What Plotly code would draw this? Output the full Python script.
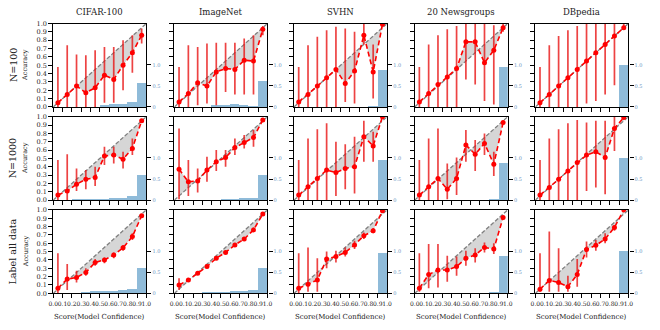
import plotly.graph_objects as go

bin_centers = [0.05, 0.15, 0.25, 0.35, 0.45, 0.55, 0.65, 0.75, 0.85, 0.95]
datasets = ["CIFAR-100", "ImageNet", "SVHN", "20 Newsgroups", "DBpedia"]
row_labels = ["N=100", "N=1000", "Label all data"]
x_title = "Score(Model Confidence)"
y_title = "Accuracy"

# ---------- Row 1: N=100 ----------
acc_100_cifar = [0.05, 0.15, 0.25, 0.17, 0.23, 0.38, 0.33, 0.50, 0.65, 0.86]
lo_100_cifar = [0.00, 0.00, 0.00, 0.00, 0.00, 0.05, 0.05, 0.20, 0.41, 0.76]
hi_100_cifar = [0.48, 0.74, 0.63, 0.62, 0.68, 0.72, 0.72, 0.80, 0.86, 0.94]
hist_100_cifar = [0, 0, 0, 0, 0, 0.055, 0.08, 0.07, 0.13, 0.58]

acc_100_imagenet = [0.06, 0.16, 0.29, 0.25, 0.42, 0.46, 0.45, 0.56, 0.55, 0.93]
lo_100_imagenet = [0.00, 0.00, 0.02, 0.04, 0.02, 0.18, 0.15, 0.15, 0.15, 0.86]
hi_100_imagenet = [0.48, 0.74, 0.72, 0.76, 0.77, 0.77, 0.77, 0.82, 0.86, 0.97]
hist_100_imagenet = [0, 0, 0, 0, 0.05, 0.06, 0.08, 0.06, 0.02, 0.62]

acc_100_svhn = [0.06, 0.15, 0.25, 0.35, 0.45, 0.28, 0.43, 0.86, 0.42, 0.99]
lo_100_svhn = [0.00, 0.00, 0.00, 0.00, 0.00, 0.06, 0.04, 0.75, 0.10, 0.97]
hi_100_svhn = [0.48, 0.74, 0.84, 0.92, 0.96, 0.94, 0.90, 1.00, 0.75, 1.00]
hist_100_svhn = [0, 0, 0, 0, 0, 0, 0, 0, 0.02, 0.90]

acc_100_news = [0.06, 0.16, 0.27, 0.36, 0.46, 0.78, 0.78, 0.53, 0.68, 0.95]
lo_100_news = [0.00, 0.00, 0.00, 0.00, 0.00, 0.33, 0.27, 0.07, 0.03, 0.90]
hi_100_news = [0.48, 0.75, 0.86, 0.93, 0.97, 1.00, 1.00, 1.00, 0.98, 1.00]
hist_100_news = [0, 0, 0, 0, 0, 0, 0, 0, 0, 0.96]

acc_100_dbpedia = [0.05, 0.15, 0.25, 0.35, 0.45, 0.55, 0.65, 0.75, 0.85, 0.95]
lo_100_dbpedia = [0.00, 0.00, 0.00, 0.00, 0.00, 0.04, 0.07, 0.15, 0.26, 0.93]
hi_100_dbpedia = [0.48, 0.74, 0.85, 0.92, 0.97, 1.00, 1.00, 1.00, 1.00, 1.00]
hist_100_dbpedia = [0, 0, 0, 0, 0, 0, 0, 0, 0, 1.00]

# ---------- Row 2: N=1000 ----------
acc_1000_cifar = [0.06, 0.11, 0.19, 0.25, 0.27, 0.53, 0.54, 0.49, 0.62, 0.95]
lo_1000_cifar = [0.00, 0.00, 0.11, 0.13, 0.17, 0.42, 0.44, 0.38, 0.54, 0.93]
hi_1000_cifar = [0.48, 0.55, 0.38, 0.36, 0.40, 0.64, 0.64, 0.58, 0.74, 0.97]
hist_1000_cifar = [0, 0, 0.02, 0.03, 0.04, 0.04, 0.05, 0.06, 0.10, 0.60]

acc_1000_imagenet = [0.37, 0.22, 0.23, 0.36, 0.46, 0.51, 0.63, 0.69, 0.75, 0.96]
lo_1000_imagenet = [0.01, 0.05, 0.09, 0.22, 0.35, 0.40, 0.54, 0.62, 0.64, 0.95]
hi_1000_imagenet = [0.86, 0.48, 0.38, 0.52, 0.60, 0.60, 0.74, 0.78, 0.84, 0.97]
hist_1000_imagenet = [0, 0, 0, 0, 0, 0.04, 0.04, 0.05, 0.06, 0.60]

acc_1000_svhn = [0.06, 0.16, 0.26, 0.36, 0.33, 0.38, 0.40, 0.76, 0.65, 1.00]
lo_1000_svhn = [0.00, 0.00, 0.00, 0.00, 0.05, 0.13, 0.08, 0.46, 0.46, 1.00]
hi_1000_svhn = [0.48, 0.74, 0.85, 0.92, 0.70, 0.67, 0.76, 0.95, 0.82, 1.00]
hist_1000_svhn = [0, 0, 0, 0, 0, 0, 0, 0, 0, 0.96]

acc_1000_news = [0.06, 0.16, 0.26, 0.13, 0.26, 0.66, 0.55, 0.68, 0.43, 0.93]
lo_1000_news = [0.00, 0.00, 0.00, 0.01, 0.06, 0.46, 0.35, 0.54, 0.29, 0.91]
hi_1000_news = [0.48, 0.74, 0.86, 0.44, 0.51, 0.84, 0.72, 0.80, 0.58, 0.95]
hist_1000_news = [0, 0, 0, 0, 0, 0, 0, 0, 0.02, 0.90]

acc_1000_dbpedia = [0.06, 0.15, 0.25, 0.35, 0.45, 0.54, 0.58, 0.51, 0.86, 0.99]
lo_1000_dbpedia = [0.00, 0.00, 0.00, 0.00, 0.00, 0.11, 0.15, 0.07, 0.59, 0.99]
hi_1000_dbpedia = [0.48, 0.74, 0.85, 0.92, 0.96, 0.93, 0.95, 0.95, 1.00, 1.00]
hist_1000_dbpedia = [0, 0, 0, 0, 0, 0, 0, 0, 0, 1.00]

# ---------- Row 3: Label all data ----------
acc_all_cifar = [0.06, 0.17, 0.19, 0.25, 0.37, 0.40, 0.46, 0.545, 0.68, 0.93]
lo_all_cifar = [0.00, 0.04, 0.13, 0.21, 0.33, 0.36, 0.42, 0.51, 0.64, 0.91]
hi_all_cifar = [0.48, 0.35, 0.27, 0.30, 0.41, 0.43, 0.49, 0.58, 0.72, 0.95]
hist_all_cifar = [0, 0, 0, 0.04, 0.05, 0.06, 0.06, 0.07, 0.11, 0.60]

acc_all_imagenet = [0.10, 0.16, 0.24, 0.32, 0.42, 0.49, 0.58, 0.65, 0.76, 0.95]
lo_all_imagenet = [0.04, 0.14, 0.22, 0.30, 0.40, 0.48, 0.57, 0.64, 0.74, 0.94]
hi_all_imagenet = [0.18, 0.18, 0.26, 0.34, 0.44, 0.51, 0.60, 0.67, 0.79, 0.96]
hist_all_imagenet = [0, 0, 0, 0.02, 0.03, 0.04, 0.05, 0.06, 0.08, 0.60]

acc_all_svhn = [0.06, 0.11, 0.16, 0.41, 0.44, 0.49, 0.58, 0.69, 0.75, 0.99]
lo_all_svhn = [0.00, 0.02, 0.02, 0.30, 0.37, 0.44, 0.53, 0.65, 0.72, 0.98]
hi_all_svhn = [0.48, 0.55, 0.42, 0.50, 0.51, 0.55, 0.63, 0.73, 0.78, 1.00]
hist_all_svhn = [0, 0, 0, 0, 0, 0, 0, 0, 0, 0.95]

acc_all_news = [0.06, 0.225, 0.28, 0.28, 0.32, 0.42, 0.46, 0.55, 0.53, 0.91]
lo_all_news = [0.02, 0.06, 0.07, 0.14, 0.21, 0.33, 0.37, 0.49, 0.47, 0.90]
hi_all_news = [0.48, 0.59, 0.59, 0.45, 0.44, 0.51, 0.54, 0.61, 0.60, 0.92]
hist_all_news = [0, 0, 0, 0, 0, 0, 0, 0, 0.02, 0.90]

acc_all_dbpedia = [0.05, 0.155, 0.13, 0.08, 0.225, 0.525, 0.575, 0.65, 0.79, 1.00]
lo_all_dbpedia = [0.02, 0.02, 0.02, 0.02, 0.08, 0.43, 0.51, 0.60, 0.75, 1.00]
hi_all_dbpedia = [0.48, 0.74, 0.54, 0.21, 0.41, 0.62, 0.64, 0.72, 0.82, 1.00]
hist_all_dbpedia = [0, 0, 0, 0, 0, 0, 0, 0, 0, 1.00]

panels = [
    [(acc_100_cifar, lo_100_cifar, hi_100_cifar, hist_100_cifar),
     (acc_100_imagenet, lo_100_imagenet, hi_100_imagenet, hist_100_imagenet),
     (acc_100_svhn, lo_100_svhn, hi_100_svhn, hist_100_svhn),
     (acc_100_news, lo_100_news, hi_100_news, hist_100_news),
     (acc_100_dbpedia, lo_100_dbpedia, hi_100_dbpedia, hist_100_dbpedia)],
    [(acc_1000_cifar, lo_1000_cifar, hi_1000_cifar, hist_1000_cifar),
     (acc_1000_imagenet, lo_1000_imagenet, hi_1000_imagenet, hist_1000_imagenet),
     (acc_1000_svhn, lo_1000_svhn, hi_1000_svhn, hist_1000_svhn),
     (acc_1000_news, lo_1000_news, hi_1000_news, hist_1000_news),
     (acc_1000_dbpedia, lo_1000_dbpedia, hi_1000_dbpedia, hist_1000_dbpedia)],
    [(acc_all_cifar, lo_all_cifar, hi_all_cifar, hist_all_cifar),
     (acc_all_imagenet, lo_all_imagenet, hi_all_imagenet, hist_all_imagenet),
     (acc_all_svhn, lo_all_svhn, hi_all_svhn, hist_all_svhn),
     (acc_all_news, lo_all_news, hi_all_news, hist_all_news),
     (acc_all_dbpedia, lo_all_dbpedia, hi_all_dbpedia, hist_all_dbpedia)],
]

W, H = 660, 330
col_left = [49, 172, 293.5, 416, 538.5]
col_w = 94.5
row_top = [20, 115.5, 211]
row_h = 85.5

FONT = "DejaVu Serif"
TXT = "#222222"
fig = go.Figure()
layout = dict(width=W, height=H, autosize=False,
              margin=dict(l=0, r=0, t=0, b=0),
              paper_bgcolor="white", plot_bgcolor="white",
              showlegend=False, bargap=0,
              font=dict(family=FONT, color=TXT))
annotations = []

xticks = [i / 10 for i in range(11)]
xticktext = ["%.1f" % v for v in xticks]

for r in range(3):
    for c in range(5):
        k = r * 5 + c
        xa = "x%d" % (k + 1)
        yb = "y%d" % (k + 1)
        yo = "y%d" % (k + 16)
        acc, lo, hi, hist = panels[r][c]
        xd = [col_left[c] / W, (col_left[c] + col_w) / W]
        yd = [1 - (row_top[r] + row_h) / H, 1 - row_top[r] / H]

        layout["xaxis%d" % (k + 1)] = dict(
            domain=xd, anchor=yb, range=[0, 1], tickmode="array",
            tickvals=xticks, ticktext=xticktext, ticks="outside", ticklen=4,
            tickwidth=1, tickcolor="black", showticklabels=(r == 2),
            tickfont=dict(size=6, family=FONT, color=TXT), tickangle=0,
            showline=True, linecolor="black", linewidth=1.3, mirror=True,
            showgrid=False, zeroline=False)
        layout["yaxis%d" % (k + 1)] = dict(
            domain=yd, anchor=xa, side="right", range=[0, 1.98],
            tickmode="array", tickvals=[0, 0.5, 1.0], ticktext=["0", "0.5", "1.0"],
            ticks="outside", ticklen=4, tickwidth=1, tickcolor="black",
            tickfont=dict(size=5, family=FONT, color="#6a96c4"),
            showline=True, linecolor="black", linewidth=1.3, mirror=True,
            showgrid=False, zeroline=False)
        layout["yaxis%d" % (k + 16)] = dict(
            overlaying=yb, anchor=xa, side="left", range=[0, 1],
            tickmode="array", tickvals=xticks, ticktext=xticktext,
            ticks="outside", ticklen=4, tickwidth=1, tickcolor="black",
            showticklabels=(c == 0),
            tickfont=dict(size=6.5, family=FONT, color=TXT),
            showline=False, showgrid=False, zeroline=False)

        fig.add_trace(go.Bar(x=bin_centers, y=hist, width=0.1,
                             marker=dict(color="#8fbbd9", line=dict(width=0)),
                             xaxis=xa, yaxis=yb, hoverinfo="skip"))
        fig.add_trace(go.Scatter(x=bin_centers, y=bin_centers, mode="lines",
                                 line=dict(width=0, color="rgba(0,0,0,0)"),
                                 xaxis=xa, yaxis=yo, hoverinfo="skip"))
        fig.add_trace(go.Scatter(x=bin_centers, y=acc, mode="lines",
                                 line=dict(width=0, color="rgba(0,0,0,0)"),
                                 fill="tonexty", fillcolor="rgba(200,200,200,0.75)",
                                 xaxis=xa, yaxis=yo, hoverinfo="skip"))
        fig.add_trace(go.Scatter(x=[0, 1], y=[0, 1], mode="lines",
                                 line=dict(color="#7f7f7f", width=1.3, dash="4px,2px"),
                                 xaxis=xa, yaxis=yo, hoverinfo="skip"))
        fig.add_trace(go.Scatter(
            x=bin_centers, y=acc, mode="lines+markers",
            line=dict(color="#ff0000", width=1.6, dash="5px,3px"),
            marker=dict(color="#ff0000", size=5),
            error_y=dict(type="data", symmetric=False,
                         array=[h - a for h, a in zip(hi, acc)],
                         arrayminus=[a - l for a, l in zip(acc, lo)],
                         color="rgba(232,20,20,0.8)", thickness=1.7, width=0),
            xaxis=xa, yaxis=yo))

for c in range(5):
    annotations.append(dict(text=datasets[c], x=(col_left[c] + col_w / 2) / W,
                            y=1 - 8 / H, xref="paper", yref="paper",
                            showarrow=False, font=dict(size=8.5, family=FONT, color=TXT),
                            xanchor="center", yanchor="middle"))
    annotations.append(dict(text=x_title, x=(col_left[c] + col_w / 2) / W,
                            y=1 - 321 / H, xref="paper", yref="paper",
                            showarrow=False, font=dict(size=7, family=FONT, color=TXT),
                            xanchor="center", yanchor="middle"))
for r in range(3):
    yc = 1 - (row_top[r] + row_h / 2) / H
    annotations.append(dict(text=row_labels[r], x=8 / W, y=yc, xref="paper", yref="paper",
                            textangle=-90, showarrow=False,
                            font=dict(size=9.5, family=FONT, color=TXT),
                            xanchor="center", yanchor="middle"))
    annotations.append(dict(text=y_title, x=21 / W, y=yc, xref="paper", yref="paper",
                            textangle=-90, showarrow=False,
                            font=dict(size=6.5, family=FONT, color=TXT),
                            xanchor="center", yanchor="middle"))

layout["annotations"] = annotations
fig.update_layout(**layout)
fig.write_html("out.html")
